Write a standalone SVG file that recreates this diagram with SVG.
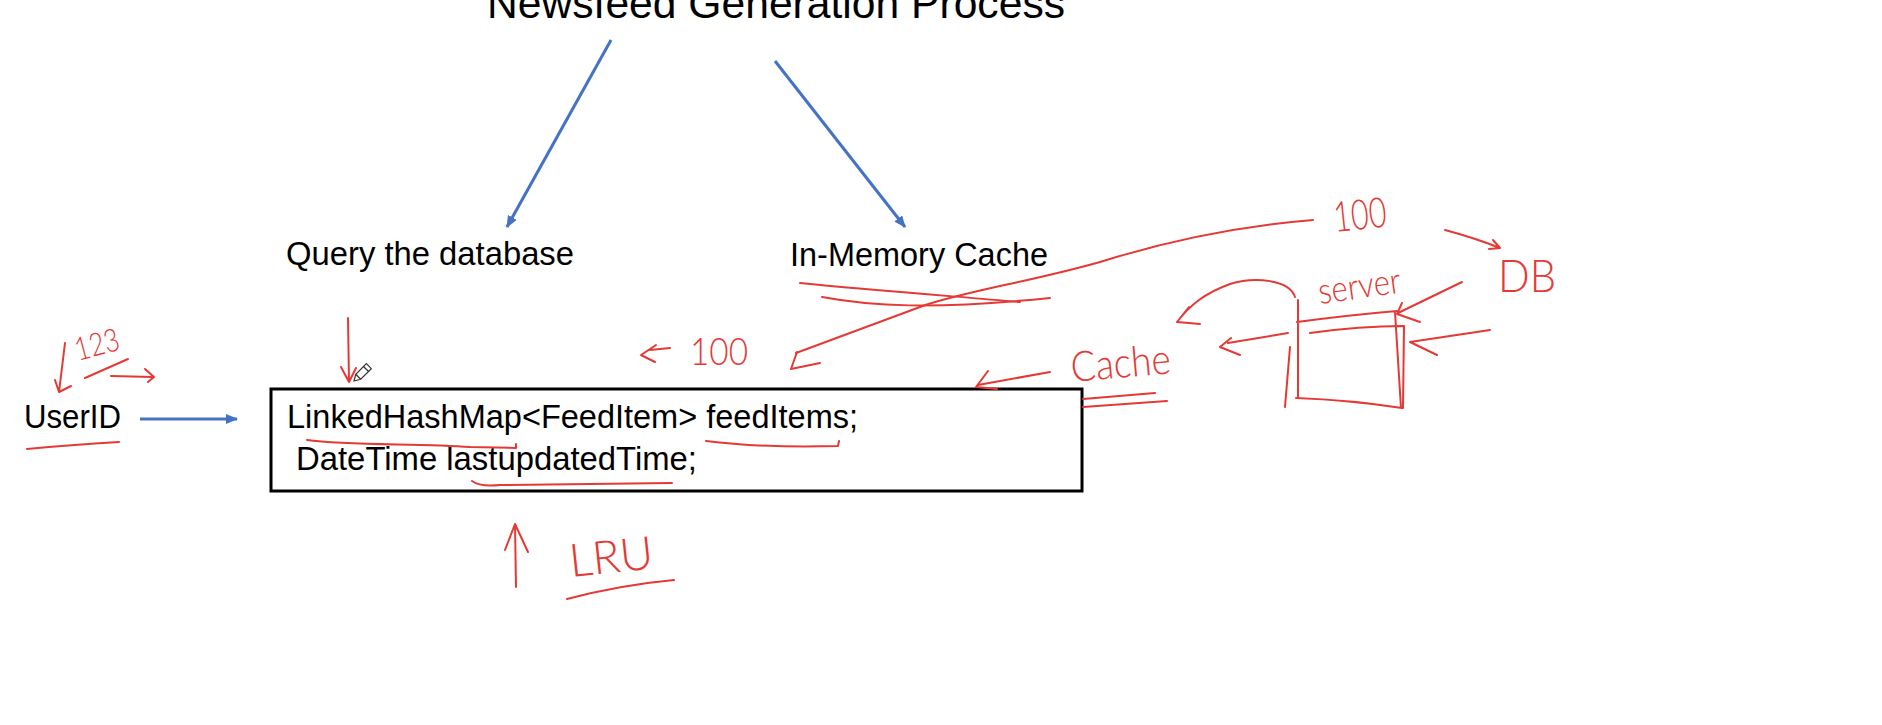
<svg xmlns="http://www.w3.org/2000/svg" width="1882" height="725" viewBox="0 0 1882 725">
<style>
.t{font-family:"Liberation Sans",Arial,sans-serif;fill:#000;}
.blue{stroke:#4472C4;stroke-width:3;fill:none;}
.ink{stroke:#E53935;stroke-width:2;fill:none;stroke-linecap:round;stroke-linejoin:round;}
.hand{font-family:"Lato","Liberation Sans",sans-serif;font-weight:300;fill:#E53935;}
</style>
<defs>
<marker id="ah" viewBox="0 0 12 10" refX="11" refY="5" markerWidth="12" markerHeight="10" markerUnits="userSpaceOnUse" orient="auto">
<path d="M0,0 L12,5 L0,10 Z" fill="#4472C4"/>
</marker>
</defs>
<rect width="1882" height="725" fill="#fff"/>

<g id="title"><text class="t" x="487" y="18" font-size="42" textLength="578" lengthAdjust="spacingAndGlyphs">Newsfeed Generation Process</text></g>
<g id="query"><text class="t" x="286" y="265" font-size="33" textLength="288" lengthAdjust="spacingAndGlyphs">Query the database</text></g>
<g id="cache"><text class="t" x="790" y="266" font-size="33" textLength="258" lengthAdjust="spacingAndGlyphs">In-Memory Cache</text></g>
<g id="userid"><text class="t" x="24" y="428" font-size="33" textLength="97" lengthAdjust="spacingAndGlyphs">UserID</text></g>
<g id="feedbox">
<rect x="271" y="389" width="811" height="102" fill="#fff" stroke="#000" stroke-width="3"/>
<text class="t" x="287" y="428" font-size="33" textLength="571" lengthAdjust="spacingAndGlyphs">LinkedHashMap&lt;FeedItem&gt; feedItems;</text>
<text class="t" x="296" y="470" font-size="33" textLength="401" lengthAdjust="spacingAndGlyphs">DateTime lastupdatedTime;</text>
</g>

<g id="connectors">
<line class="blue" x1="611" y1="40" x2="507" y2="227" marker-end="url(#ah)"/>
<line class="blue" x1="775" y1="61" x2="905" y2="227" marker-end="url(#ah)"/>
<line class="blue" x1="140" y1="419" x2="237" y2="419" marker-end="url(#ah)"/>
</g>

<g id="annotations">
<!-- near UserID -->
<text class="hand" x="78" y="361" font-size="32" textLength="45" lengthAdjust="spacingAndGlyphs" transform="rotate(-15 78 361)">123</text>
<path class="ink" d="M65,343 L59,392 M55,380 L59,392 L71,386"/>
<path class="ink" d="M85,378 L128,359"/>
<path class="ink" d="M111,376 L153,377 M145,369 L154,377 L148,382"/>
<path class="ink" d="M27,449 Q70,445 119,442"/>
<!-- down arrow to box -->
<path class="ink" d="M348,318 L349,382 M341,367 L349,382 L356,368"/>
<!-- underlines in box -->
<path class="ink" d="M307,440 C350,446 420,443 470,447 L516,448 L516,444"/>
<path class="ink" d="M706,441 Q760,448 838,446 L839,441"/>
<path class="ink" d="M472,481 Q480,487 500,485 L672,483"/>
<!-- LRU -->
<path class="ink" d="M516,587 L515,524 M505,550 L515,524 L528,552"/>
<text class="hand" x="571" y="577" font-size="46" textLength="84" lengthAdjust="spacingAndGlyphs" transform="rotate(-6 571 577)">LRU</text>
<path class="ink" d="M567,599 Q620,585 674,580"/>
<!-- left 100 -->
<path class="ink" d="M670,348 L650,350 M656,345 L641,355 L655,362"/>
<text class="hand" x="690" y="365" font-size="38" textLength="58" lengthAdjust="spacingAndGlyphs">100</text>
<!-- strike lines under In-Memory Cache -->
<path class="ink" d="M800,283 C870,290 950,296 1020,302"/>
<path class="ink" d="M822,297 C870,306 930,310 1050,298"/>
<!-- long arrow from top-right 100 -->
<path class="ink" d="M1313,220 C1240,226 1170,240 1100,262 C1030,282 960,292 920,307 L796,353"/>
<path class="ink" d="M797,352 L791,369 L820,363"/>
<text class="hand" x="1335" y="232" font-size="42" textLength="53" lengthAdjust="spacingAndGlyphs" transform="rotate(-6 1335 232)">100</text>
<!-- 100 to DB -->
<path class="ink" d="M1445,230 Q1475,238 1500,248 M1493,240 L1500,248 L1489,249"/>
<text class="hand" x="1498" y="292" font-size="46" textLength="58" lengthAdjust="spacingAndGlyphs">DB</text>
<!-- Cache -->
<path class="ink" d="M1050,372 L978,385 M988,371 L976,387 L997,389"/>
<text class="hand" x="1072" y="382" font-size="42" textLength="100" lengthAdjust="spacingAndGlyphs" transform="rotate(-5 1072 382)">Cache</text>
<path class="ink" d="M1083,399 L1155,393 M1083,407 L1167,401"/>
<!-- server -->
<text class="hand" x="1320" y="304" font-size="36" textLength="83" lengthAdjust="spacingAndGlyphs" transform="rotate(-8 1320 304)">server</text>
<path class="ink" d="M1298,300 L1298,398 M1297,322 Q1350,315 1397,311 M1395,312 L1401,408 M1296,398 Q1350,400 1402,408 M1310,333 Q1360,326 1404,326 L1403,408 M1290,347 L1285,407"/>
<path class="ink" d="M1295,297 C1290,280 1255,276 1230,284 C1205,293 1190,305 1177,322 M1189,307 L1177,322 L1200,324"/>
<path class="ink" d="M1288,333 L1228,343 M1231,338 L1220,347 L1240,355"/>
<path class="ink" d="M1462,282 L1398,313 M1402,303 L1397,314 L1420,322"/>
<path class="ink" d="M1490,330 L1410,342 L1437,355"/>
<!-- pencil cursor -->
<g transform="translate(354,381) rotate(-45)">
<path d="M0,0 L6,-3.5 L21,-3.5 L21,3.5 L6,3.5 Z M6,-3.5 L6,3.5 M17,-3.5 L17,3.5" fill="#fff" stroke="#333" stroke-width="1.2"/>
</g>
</g>
</svg>
